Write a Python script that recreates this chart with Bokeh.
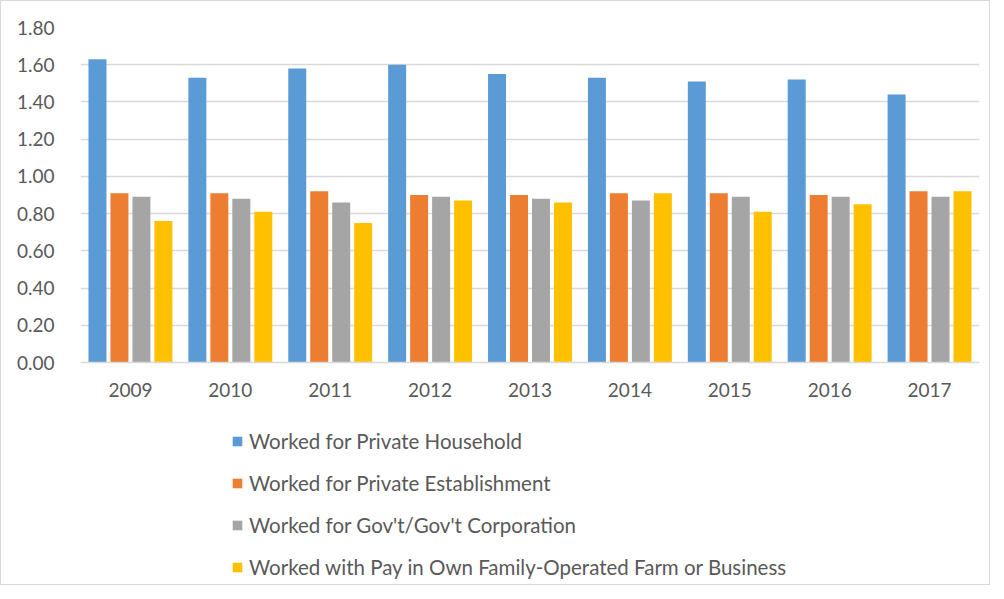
from bokeh.plotting import figure
from bokeh.layouts import column
from bokeh.models import (FactorRange, Range1d, FixedTicker, NumeralTickFormatter,
                          Legend, LegendItem, ColumnDataSource)
from bokeh.transform import dodge
from bokeh.embed import file_html
from bokeh.resources import INLINE

years = ["2009", "2010", "2011", "2012", "2013", "2014", "2015", "2016", "2017"]
household = [1.63, 1.53, 1.58, 1.60, 1.55, 1.53, 1.51, 1.52, 1.44]
establishment = [0.91, 0.91, 0.92, 0.90, 0.90, 0.91, 0.91, 0.90, 0.92]
government = [0.89, 0.88, 0.86, 0.89, 0.88, 0.87, 0.89, 0.89, 0.89]
family = [0.76, 0.81, 0.75, 0.87, 0.86, 0.91, 0.81, 0.85, 0.92]
series_names = [
    "Worked for Private Household",
    "Worked for Private Establishment",
    "Worked for Gov't/Gov't Corporation",
    "Worked with Pay in Own Family-Operated Farm or Business",
]
y_ticks = [0.0, 0.2, 0.4, 0.6, 0.8, 1.0, 1.2, 1.4, 1.6, 1.8]

colors = ["#5B9BD5", "#ED7D31", "#A5A5A5", "#FFC000"]
offsets = [-0.33, -0.11, 0.11, 0.33]
cols = ["household", "establishment", "government", "family"]
FONT = "Lato"
TXT = "#595959"

src = ColumnDataSource(dict(years=years, household=household, establishment=establishment,
                            government=government, family=family))

p = figure(x_range=FactorRange(*years, range_padding=0), y_range=Range1d(0, 1.8),
           width=988, height=400, output_backend="svg", toolbar_location=None,
           min_border_left=79, min_border_right=10, min_border_top=26, min_border_bottom=39)
p.outline_line_color = None
p.background_fill_color = "white"
p.border_fill_color = "white"

for col, c, off in zip(cols, colors, offsets):
    p.vbar(x=dodge("years", off, range=p.x_range), top=col, width=0.18, source=src,
           fill_color=c, line_color=None)

p.xgrid.grid_line_color = None
p.ygrid.grid_line_color = "#d9d9d9"
p.ygrid.grid_line_width = 1.5
p.yaxis.ticker = FixedTicker(ticks=y_ticks)
p.yaxis.formatter = NumeralTickFormatter(format="0.00")
p.yaxis.axis_line_color = None
p.yaxis.major_tick_line_color = None
p.yaxis.minor_tick_line_color = None
p.yaxis.major_label_standoff = 20
p.xaxis.axis_line_color = "#d9d9d9"
p.xaxis.axis_line_width = 1.5
p.xaxis.major_tick_line_color = None
p.xaxis.major_label_standoff = 14
for ax in (p.xaxis, p.yaxis):
    ax.major_label_text_font = FONT
    ax.major_label_text_font_size = "19px"
    ax.major_label_text_color = TXT

# legend panel: same series, drawn out of view so only the legend shows
p2 = figure(x_range=FactorRange(*years, range_padding=0), y_range=Range1d(10, 11),
            width=988, height=183, output_backend="svg", toolbar_location=None,
            min_border=0)
p2.axis.visible = False
p2.grid.visible = False
p2.outline_line_color = None
p2.background_fill_color = "white"
p2.border_fill_color = "white"
lrs = []
for col, c, off in zip(cols, colors, offsets):
    lrs.append(p2.vbar(x=dodge("years", off, range=p2.x_range), top=col, width=0.18,
                       source=src, fill_color=c, line_color=None))

legend = Legend(items=[LegendItem(label=n, renderers=[r]) for n, r in zip(series_names, lrs)],
                location=(151, 5), orientation="vertical")
legend.label_text_font = FONT
legend.label_text_font_size = "20.5px"
legend.label_text_color = TXT
legend.glyph_width = 12
legend.glyph_height = 12
legend.label_height = 20
legend.spacing = 18
legend.padding = 5
legend.label_standoff = 6
legend.border_line_color = None
legend.background_fill_alpha = 0
p2.add_layout(legend, "center")

layout = column(p, p2, spacing=0)
layout.styles = {"border": "1px solid #d9d9d9"}

open("out.html", "w").write(file_html(layout, INLINE))
